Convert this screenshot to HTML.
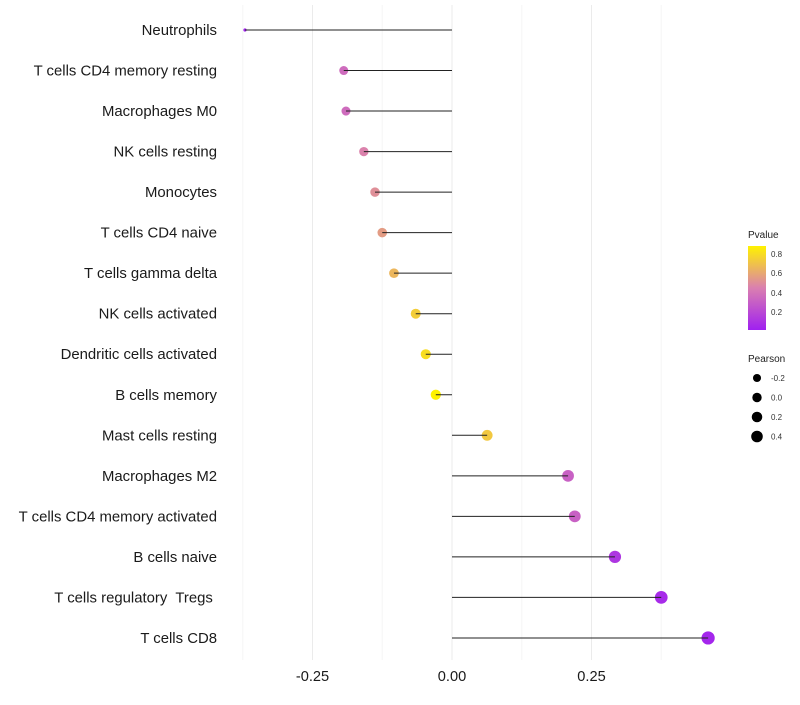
<!DOCTYPE html>
<html><head><meta charset="utf-8"><style>
body{margin:0;background:#fff;font-family:"Liberation Sans",Arial,sans-serif}
svg text{font-family:"Liberation Sans",Arial,sans-serif;white-space:pre}
</style></head><body>
<svg id="chart" width="800" height="700" xmlns="http://www.w3.org/2000/svg">
<defs><linearGradient id="pg" x1="0" y1="1" x2="0" y2="0">
<stop offset="0" stop-color="#a020f0"/><stop offset="0.5" stop-color="#da7fb0"/><stop offset="1" stop-color="#fff200"/></linearGradient></defs>
<g id="grid"></g><g id="points"></g><g id="marks"></g><g id="labels"></g><g id="xticks"></g>
<g>
<text x="748" y="238" font-size="10" fill="#222">Pvalue</text>
<rect x="748" y="246" width="18" height="84" fill="url(#pg)"/>
<text x="771" y="257" font-size="8" fill="#333">0.8</text>
<text x="771" y="276" font-size="8" fill="#333">0.6</text>
<text x="771" y="296" font-size="8" fill="#333">0.4</text>
<text x="771" y="315" font-size="8" fill="#333">0.2</text>
</g>
<g id="sizeLegend">
<text x="748" y="362" font-size="10" fill="#222">Pearson</text>
</g>
</svg>
<script>
const categories=["Neutrophils","T cells CD4 memory resting","Macrophages M0","NK cells resting","Monocytes","T cells CD4 naive","T cells gamma delta","NK cells activated","Dendritic cells activated","B cells memory","Mast cells resting","Macrophages M2","T cells CD4 memory activated","B cells naive","T cells regulatory  Tregs ","T cells CD8"];
const pearson=[-0.371,-0.194,-0.19,-0.158,-0.138,-0.125,-0.104,-0.065,-0.047,-0.029,0.063,0.208,0.22,0.292,0.375,0.459];
const pvalue=[0.01,0.35,0.35,0.45,0.5,0.55,0.65,0.74,0.8,0.88,0.72,0.3,0.3,0.1,0.05,0.03];
const xTicks=[-0.25,0,0.25];
const xTickLabels=["-0.25","0.00","0.25"];
const sizeLegendVals=[-0.2,0.0,0.2,0.4];
const sizeLegendLabels=["-0.2","0.0","0.2","0.4"];
const NS="http://www.w3.org/2000/svg";
const x=v=>452+v*558;
const y=i=>30+i*40.53;
const r=v=>v<-0.3?1.6:Math.sqrt(Math.max(1,27.2+35.7*v));
function col(p){const t=Math.min(1,p/0.88);const s=[[160,32,240],[218,127,176],[255,242,0]];
let a,b,u;if(t<0.5){a=s[0];b=s[1];u=t/0.5}else{a=s[1];b=s[2];u=(t-0.5)/0.5}
return `rgb(${a.map((c,k)=>Math.round(c+(b[k]-c)*u)).join(",")})`;}
function mk(tag,at,parent){const e=document.createElementNS(NS,tag);for(const k in at)e.setAttribute(k,at[k]);parent.appendChild(e);return e;}
const grid=document.getElementById('grid');
for(let v=-0.375;v<=0.376;v+=0.125){const l=mk('line',{x1:x(v),x2:x(v),y1:5,y2:660,stroke:Math.abs((v*8)%2)<0.01?'#ebebeb':'#f5f5f5','stroke-width':1},grid);

}
const marks=document.getElementById('marks'),pts=document.getElementById('points'),labels=document.getElementById('labels');
categories.forEach((c,i)=>{
const pt=mk('circle',{cx:x(pearson[i]),cy:y(i),r:r(pearson[i]),fill:col(pvalue[i])},pts);


const ln=mk('line',{x1:x(0),x2:x(pearson[i]),y1:y(i),y2:y(i),stroke:'#222','stroke-width':1},marks);


const t=mk('text',{x:217,y:y(i)+5,'text-anchor':'end','font-size':14.9,fill:'#1a1a1a'},labels);t.textContent=c;


});
const xt=document.getElementById('xticks');
xTicks.forEach((v,i)=>{const t=mk('text',{x:x(v),y:681,'text-anchor':'middle','font-size':14.6,fill:'#1a1a1a'},xt);t.textContent=xTickLabels[i];

});
const sl=document.getElementById('sizeLegend');
sizeLegendVals.forEach((v,i)=>{const cy=378+i*19.5;
const c=mk('circle',{cx:757,cy:cy,r:r(v)*0.9,fill:'#000'},sl);


const t=mk('text',{x:771,y:cy+3,'font-size':8,fill:'#333'},sl);t.textContent=sizeLegendLabels[i];

});
</script>
</body></html>
